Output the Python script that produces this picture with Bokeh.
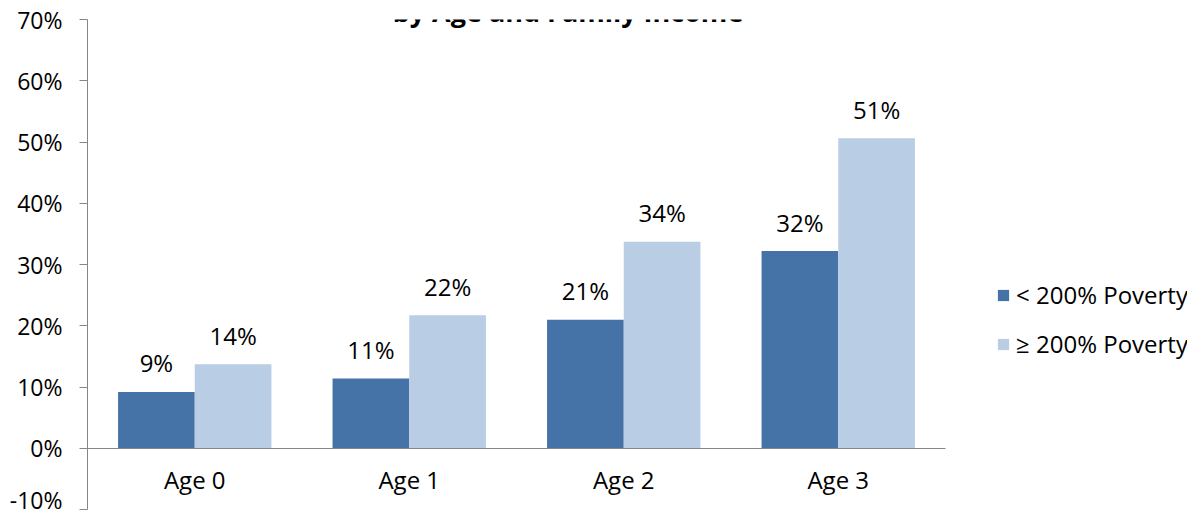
from bokeh.plotting import figure
from bokeh.models import (ColumnDataSource, Range1d, FixedTicker,
                          NumeralTickFormatter, Legend, LegendItem, Label)
from bokeh.transform import dodge
from bokeh.core.properties import value
from bokeh.embed import file_html
from bokeh.resources import INLINE

categories = ["Age 0", "Age 1", "Age 2", "Age 3"]
below_200 = [0.092, 0.114, 0.210, 0.322]
above_200 = [0.137, 0.217, 0.337, 0.506]
series_names = ["< 200% Poverty", "\u2265 200% Poverty"]
y_ticks = [-0.1, 0.0, 0.1, 0.2, 0.3, 0.4, 0.5, 0.6, 0.7]
title_text = "by Age and Family Income"

DARK = "#4572A7"
LIGHT = "#B9CDE5"
AXIS = "#868686"
FONT = value("Open Sans")
FS = "24px"

W, H = 1187, 515
LEFT, TOP, BOTTOM = 87, 19, 6
CAT_PX = 214.5            # pixel width of one category slot
n = len(categories)
centers = [i + 0.5 for i in range(n)]

src = ColumnDataSource(dict(
    xc=centers,
    below=below_200,
    above=above_200,
    below_lbl=[f"{round(v * 100)}%" for v in below_200],
    above_lbl=[f"{round(v * 100)}%" for v in above_200],
))

x_end = (W - LEFT) / CAT_PX
p = figure(x_range=Range1d(0, x_end), y_range=Range1d(-0.1, 0.7),
           width=W, height=H, output_backend="svg", toolbar_location=None,
           min_border_left=LEFT, min_border_right=0, min_border_top=TOP,
           min_border_bottom=BOTTOM)

bw = 0.3575
r1 = p.vbar(x=dodge("xc", -bw / 2), top="below", width=bw,
            source=src, fill_color=DARK, line_color=None)
r2 = p.vbar(x=dodge("xc", bw / 2), top="above", width=bw,
            source=src, fill_color=LIGHT, line_color=None)

for off, col in [(-bw / 2, "below"), (bw / 2, "above")]:
    p.text(x=dodge("xc", off), y=col, text=col + "_lbl",
           source=src, text_align="center", text_baseline="alphabetic",
           y_offset=-29, text_font=FONT, text_font_size=FS,
           text_color="#000000")

p.xgrid.visible = False
p.ygrid.visible = False
p.outline_line_color = None

ya = p.yaxis[0]
ya.ticker = FixedTicker(ticks=y_ticks)
ya.formatter = NumeralTickFormatter(format="0%")
ya.major_tick_in = 0
ya.major_tick_out = 8
ya.minor_tick_line_color = None
ya.axis_line_color = AXIS
ya.major_tick_line_color = AXIS
ya.major_label_standoff = 17
ya.major_label_text_font = "Open Sans"
ya.major_label_text_font_size = "23px"
ya.major_label_text_color = "#000000"

xa = p.xaxis[0]
xa.fixed_location = 0
xa.bounds = (0, n)
xa.ticker = FixedTicker(ticks=centers)
xa.major_label_overrides = {c: lab for c, lab in zip(centers, categories)}
xa.major_tick_in = 0
xa.major_tick_out = 0
xa.minor_tick_line_color = None
xa.axis_line_color = AXIS
xa.major_label_standoff = 15
xa.major_label_text_font = "Open Sans"
xa.major_label_text_font_size = FS
xa.major_label_text_color = "#000000"

legend = Legend(items=[LegendItem(label=series_names[0], renderers=[r1]),
                       LegendItem(label=series_names[1], renderers=[r2])],
                location=(909, 149), orientation="vertical",
                glyph_width=14, glyph_height=14, label_height=24,
                label_standoff=6, spacing=16, padding=0, margin=0,
                border_line_color=None, background_fill_alpha=0,
                label_text_font="Open Sans", label_text_font_size=FS,
                label_text_color="#000000")
p.add_layout(legend)

title = Label(x=2.24, y=0.7, y_offset=8, text=title_text,
              text_align="center", text_baseline="alphabetic",
              text_font="Open Sans", text_font_style="bold",
              text_font_size="27px", text_color="#000000")
p.add_layout(title)

open("out.html", "w").write(file_html(p, INLINE))
